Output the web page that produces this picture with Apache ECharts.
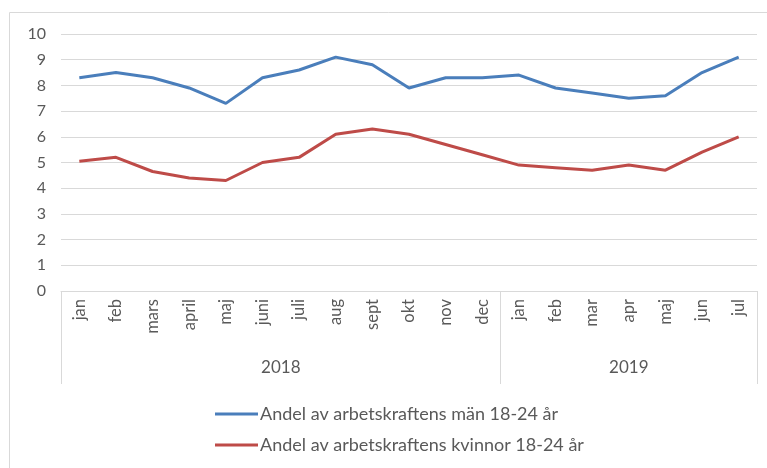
<!DOCTYPE html>
<html>
<head>
<meta charset="utf-8">
<script src="https://cdn.jsdelivr.net/npm/echarts@6/dist/echarts.min.js"></script>
<style>html,body{margin:0;padding:0;background:#fff}#c{width:767px;height:468px}</style>
</head>
<body>
<div id="c"></div>
<script>
const months = ['jan','feb','mars','april','maj','juni','juli','aug','sept','okt','nov','dec','jan','feb','mar','apr','maj','jun','jul'];
const years = ['2018','2019'];
const yearCounts = [12, 7];
const seriesNames = ['Andel av arbetskraftens män 18-24 år','Andel av arbetskraftens kvinnor 18-24 år'];
const men = [8.3,8.5,8.3,7.9,7.3,8.3,8.6,9.1,8.8,7.9,8.3,8.3,8.4,7.9,7.7,7.5,7.6,8.5,9.1];
const women = [5.05,5.2,4.65,4.4,4.3,5.0,5.2,6.1,6.3,6.1,5.7,5.3,4.9,4.8,4.7,4.9,4.7,5.4,6.0];
const yTicks = {min:0, max:10, interval:1};

// group boundaries and centers
const bounds = [0]; yearCounts.forEach(c => bounds.push(bounds[bounds.length-1] + c));
const centers = {}; years.forEach((y,i) => { centers[(bounds[i]+bounds[i+1])/2] = y; });

const FONT = 'Lato';
const GRAY = '#595959';
const chart = echarts.init(document.getElementById('c'), null, {renderer:'canvas'});
chart.setOption({
  animation:false,
  textStyle:{fontFamily:FONT},
  graphic:[
    {type:'line', shape:{x1:9.5,y1:12.5,x2:767,y2:12.5}, style:{stroke:'#d9d9d9',lineWidth:1}},
    {type:'line', shape:{x1:9.5,y1:12.5,x2:9.5,y2:468}, style:{stroke:'#d9d9d9',lineWidth:1}}
  ],
  grid:{left:61, right:10, top:34, bottom:177, containLabel:false},
  legend:{
    orient:'vertical', left:210, top:400, itemGap:13, itemWidth:43, itemHeight:3,
    icon:'rect',
    textStyle:{fontFamily:FONT, fontSize:18, color:GRAY, padding:[0,0,0,-3]},
    data:seriesNames
  },
  xAxis:[
    {type:'category', data:months, boundaryGap:true,
     axisLine:{lineStyle:{color:'#d9d9d9'}},
     axisTick:{show:true, length:93, lineStyle:{color:'#d9d9d9'},
       interval:(i)=>bounds.indexOf(i)>=0},
     axisLabel:{rotate:90, interval:0, color:GRAY, fontSize:16.5, margin:8, fontFamily:FONT}
    },
    {type:'value', min:0, max:months.length, interval:0.5, position:'bottom',
     axisLine:{show:false}, axisTick:{show:false}, splitLine:{show:false},
     axisLabel:{color:GRAY, fontSize:17, margin:68, fontFamily:FONT,
       formatter:(v)=>centers[v] || ''}
    }
  ],
  yAxis:{type:'value', min:yTicks.min, max:yTicks.max, interval:yTicks.interval,
    axisLine:{show:false}, axisTick:{show:false},
    splitLine:{lineStyle:{color:'#d9d9d9'}},
    axisLabel:{color:GRAY, fontSize:16, margin:15, fontFamily:FONT}
  },
  series:[
    {name:seriesNames[0], type:'line', data:men, symbol:'none', xAxisIndex:0,
     lineStyle:{width:3, color:'#4a7ebb'}, itemStyle:{color:'#4a7ebb'}},
    {name:seriesNames[1], type:'line', data:women, symbol:'none', xAxisIndex:0,
     lineStyle:{width:3, color:'#be4b48'}, itemStyle:{color:'#be4b48'}}
  ]
});
</script>
</body>
</html>
